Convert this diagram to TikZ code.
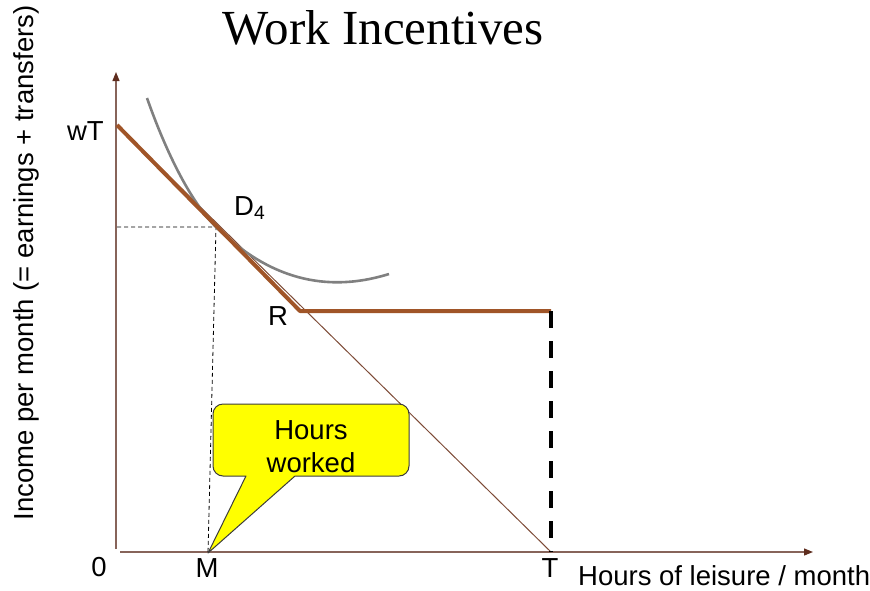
\documentclass[tikz,border=0pt]{standalone}
\usepackage{fontspec}
\setmainfont{Liberation Sans}
\newfontfamily\titlefont{Liberation Serif}
\usetikzlibrary{arrows.meta}
\definecolor{axisbrown}{RGB}{135,100,90}
\definecolor{tipbrown}{RGB}{95,45,30}
\definecolor{budget}{RGB}{160,85,40}
\definecolor{thinbrown}{RGB}{125,75,55}
\definecolor{curvegray}{RGB}{128,128,128}
\definecolor{callyellow}{RGB}{255,255,0}
\definecolor{callborder}{RGB}{60,60,60}
\begin{document}
\begin{tikzpicture}[x=1pt,y=-1pt,
  lbl/.style={font=\fontsize{27.5}{31}\selectfont, inner sep=0pt},
  axis/.style={draw=axisbrown, line width=1.2pt, -{Triangle[length=9pt,width=7pt,fill=tipbrown,color=tipbrown]}},
  thickbudget/.style={draw=budget, line width=4pt, line join=round},
  thinbudget/.style={draw=thinbrown, line width=1pt},
  icurve/.style={draw=curvegray, line width=2.6pt},
  guide/.style={draw=black, line width=0.8pt, dash pattern=on 4pt off 3pt},
  cutoff/.style={draw=black, line width=4.5pt, dash pattern=on 17pt off 13pt},
  callout/.style={draw=callborder, fill=callyellow, line width=1pt, line join=round}
]
\useasboundingbox (0,0) rectangle (870,590);

% coordinates
\coordinate (Ytop) at (116,72);
\coordinate (Ybot) at (116,549);
\coordinate (Xleft) at (120,552);
\coordinate (Xright) at (813,552);
\coordinate (wTpt) at (117,125);
\coordinate (Rpt) at (300,311);
\coordinate (Kink) at (551,311);
\coordinate (Tpt) at (551,552);
\coordinate (Mpt) at (208,553);
\coordinate (Dpt) at (216,227);
\coordinate (Dy) at (117,227);
\coordinate (C0) at (147,98);
\coordinate (C1) at (389,274);

% title
\node[font=\titlefont\fontsize{49}{54}\selectfont, inner sep=0pt, anchor=base] (title) at (383,44) {Work Incentives};

% axes
\draw[axis] (Ybot) -- (Ytop);
\draw[axis] (Xleft) -- (Xright);

% thin budget line
\draw[thinbudget] (wTpt) -- (Tpt);

% guides
\draw[guide] (Dy) -- (Dpt) -- (Mpt);

% indifference curve
\draw[icurve] (C0) .. controls (160,135) and (185,196) .. (Dpt) .. controls (262,272) and (318,296) .. (C1);

% kinked budget
\draw[thickbudget] (wTpt) -- (Rpt) -- (Kink);
\draw[cutoff] (Kink) -- (Tpt);

% callout
\draw[callout] (Mpt) -- (246,476) {[rounded corners=10pt] -- (213,476) -- (213,404) -- (409,404) -- (409,476)} -- (295,476) -- cycle;
\node[lbl, align=center, font=\fontsize{27.5}{33}\selectfont] (hw) at (311,447) {Hours\\worked};

% labels
\node[lbl, anchor=base east] (wT) at (104,140) {wT};
\node[lbl, anchor=base west] (D4) at (234,215) {D\textsubscript{4}};
\node[lbl, anchor=base] (R) at (278,325) {R};
\node[lbl, anchor=base] (zero) at (99,576) {0};
\node[lbl, anchor=base] (M) at (207,577) {M};
\node[lbl, anchor=base] (T) at (550,577) {T};
\node[lbl, anchor=base west] (xlab) at (578,585) {Hours of leisure / month};
\node[lbl, rotate=90] (ylab) at (26,263) {Income per month (= earnings + transfers)};
\end{tikzpicture}
\end{document}
